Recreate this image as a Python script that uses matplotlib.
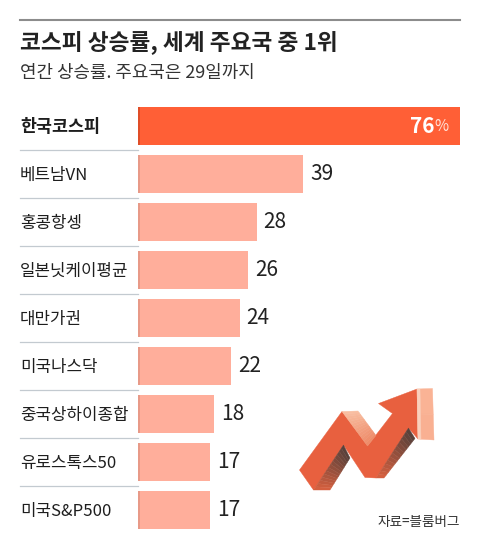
import matplotlib
matplotlib.use("Agg")
import matplotlib.pyplot as plt
import matplotlib.colors as mc
from matplotlib.lines import Line2D
from matplotlib.patches import Polygon

categories = ["한국코스피", "베트남VN", "홍콩항셍", "일본닛케이평균", "대만가권",
              "미국나스닥", "중국상하이종합", "유로스톡스50", "미국S&P500"]
values = [76, 39, 28, 26, 24, 22, 18, 17, 17]
value_labels = ["76", "39", "28", "26", "24", "22", "18", "17", "17"]
title = "코스피 상승률, 세계 주요국 중 1위"
subtitle = "연간 상승률. 주요국은 29일까지"
source = "자료=블룸버그"

W, H = 480, 550
plt.rcParams["font.family"] = ["Noto Sans CJK KR", "DejaVu Sans"]

fig = plt.figure(figsize=(W / 100, H / 100), dpi=100, facecolor="white")

ax = fig.add_axes([138 / W, 1 - 534 / H, 322 / W, 432 / H])
ax.set_xlim(0, 76)
ax.set_ylim(8.5, -0.5)
ax.axis("off")

colors = ["#FF5F36"] + ["#FFAE9B"] * 8
edge = ["#E04E28"] + ["#E89A88"] * 8
ax.barh(range(9), values, height=38 / 48, color=colors, zorder=2)
ax.barh(range(9), [0.45] * 9, height=38 / 48, color=edge, zorder=3)

for i, (c, v, lab) in enumerate(zip(categories, values, value_labels)):
    y = (127.5 + 48 * i) / H
    fig.text(20 / W, 1 - y, c, fontsize=12.5 if i == 0 else 12.1, color="#1e1e1e",
             va="center", ha="left", fontweight="bold" if i == 0 else "normal")
    if i == 0:
        ax.annotate(lab, (v, i), xytext=(-18, 0), textcoords="offset points", ha="right",
                    va="center", fontsize=15, fontweight="bold", color="white")
        ax.annotate("%", (v, i), xytext=(-8.6, 0), textcoords="offset points", ha="right",
                    va="center", fontsize=11, color="#FFE3DA")
    else:
        ax.annotate(lab, (v, i), xytext=(5, 0), textcoords="offset points", ha="left",
                    va="center", fontsize=15, color="#222222")

fig.add_artist(Line2D([20 / W, 460 / W], [1 - 20 / H] * 2, color="#8C8C8C", lw=1.5))
for i in range(8):
    yy = 1 - (150 + 48 * i) / H
    fig.add_artist(Line2D([20 / W, 138 / W], [yy, yy], color="#C3CAD0", lw=0.9))

fig.text(20 / W, 1 - 43 / H, title, fontsize=16.3, fontweight="bold", color="#222222", va="center")
fig.text(20 / W, 1 - 73 / H, subtitle, fontsize=12.9, color="#333333", va="center")
fig.text(378 / W, 1 - 522 / H, source, fontsize=9.8, color="#333333", va="center")

# decorative 3D arrow, in reference pixel coordinates
def deco(points, color, z=5):
    pts = [(a / W, 1 - b / H) for a, b in points]
    fig.add_artist(Polygon(pts, closed=True, transform=fig.transFigure, facecolor=color,
                           edgecolor=color, lw=0.3, zorder=z))

def shade(a0, a1, b0, b1, c0, c1, z=6, n=14):
    """Quad from edge a0-b0 to edge a1-b1, colour fading c0 to c1."""
    c0, c1 = mc.to_rgb(c0), mc.to_rgb(c1)
    mix = lambda p, q, t: (p[0] + (q[0] - p[0]) * t, p[1] + (q[1] - p[1]) * t)
    for k in range(n):
        t0, t1 = k / n, (k + 1) / n
        col = tuple(c0[j] + (c1[j] - c0[j]) * (t0 + t1) / 2 for j in range(3))
        deco([mix(a0, a1, t0), mix(a0, a1, t1), mix(b0, b1, t1), mix(b0, b1, t0)], col, z)

deco([(299.5, 470), (342, 411.5), (367.5, 446), (392.5, 413.5), (378.5, 403.5), (417, 389),
      (418, 439), (408.5, 428), (376, 478), (365, 477.5), (343.5, 445), (313.5, 490)],
     "#E8603F", 5)
shade((343.5, 445), (313.5, 490), (350, 458), (330, 490), "#54403A", "#D9603F")
shade((408.5, 428), (376, 478), (415, 438.5), (384, 478), "#54403A", "#D9603F")
shade((342, 411.5), (367.5, 446), (358, 411), (376, 435.5), "#F9C0A3", "#EE8A68", 7)
shade((417, 389), (418, 439), (432.5, 388.5), (434, 440), "#FBB497", "#F8AE90", 7, 2)
deco([(417, 389), (420, 389), (421, 439), (418, 439)], "#F9D0BC", 8)

fig.savefig("out.png", dpi=100)
